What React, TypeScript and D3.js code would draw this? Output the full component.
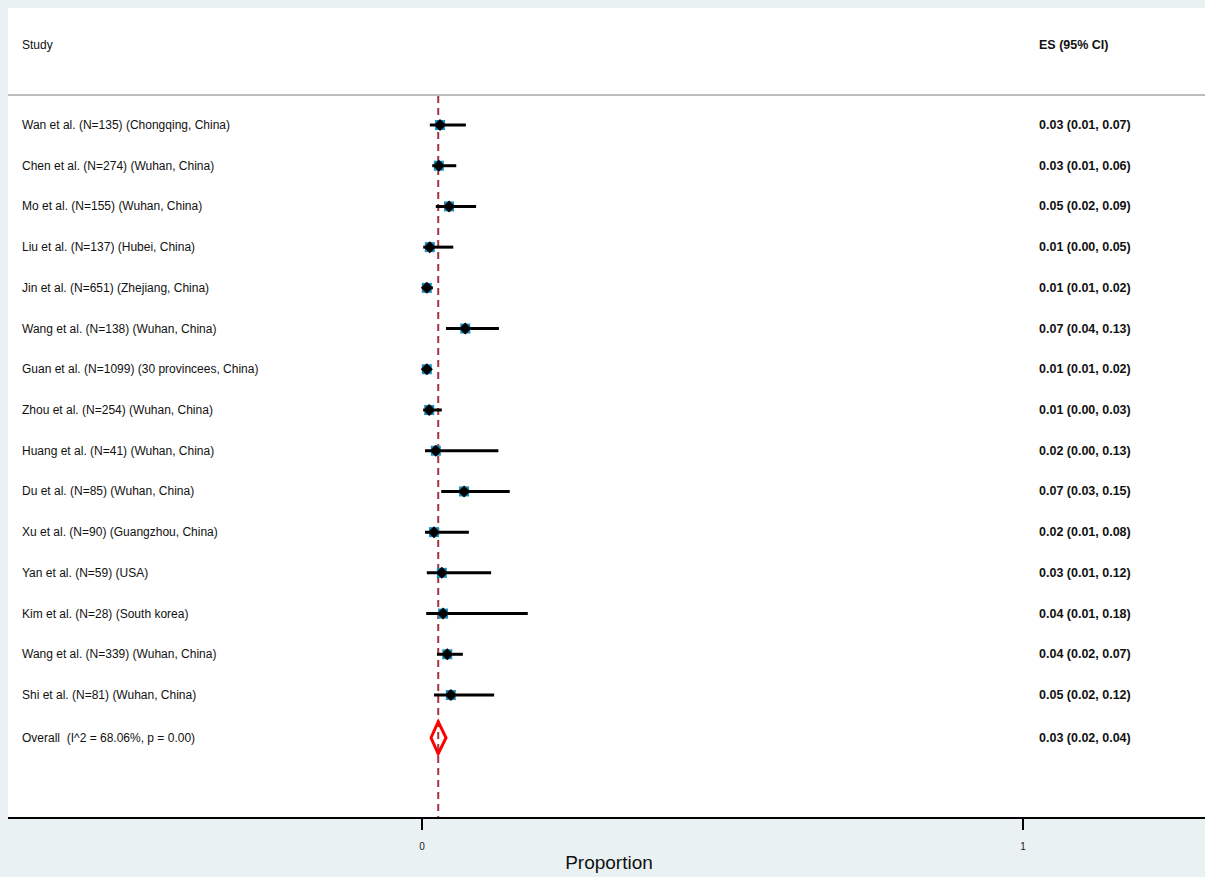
import React from "react";
import * as d3 from "d3";

const studies = [
  "Wan et al. (N=135) (Chongqing, China)",
  "Chen et al. (N=274) (Wuhan, China)",
  "Mo et al. (N=155) (Wuhan, China)",
  "Liu et al. (N=137) (Hubei, China)",
  "Jin et al. (N=651) (Zhejiang, China)",
  "Wang et al. (N=138) (Wuhan, China)",
  "Guan et al. (N=1099) (30 provincees, China)",
  "Zhou et al. (N=254) (Wuhan, China)",
  "Huang et al. (N=41) (Wuhan, China)",
  "Du et al. (N=85) (Wuhan, China)",
  "Xu et al. (N=90) (Guangzhou, China)",
  "Yan et al. (N=59) (USA)",
  "Kim et al. (N=28) (South korea)",
  "Wang et al. (N=339) (Wuhan, China)",
  "Shi et al. (N=81) (Wuhan, China)",
];
const es = [0.030, 0.028, 0.045, 0.013, 0.008, 0.072, 0.008, 0.012, 0.023, 0.070, 0.020, 0.033, 0.035, 0.042, 0.048];
const lo = [0.013, 0.017, 0.023, 0.002, 0.002, 0.040, 0.003, 0.002, 0.005, 0.032, 0.005, 0.008, 0.007, 0.025, 0.020];
const hi = [0.073, 0.057, 0.090, 0.052, 0.018, 0.128, 0.013, 0.033, 0.127, 0.146, 0.078, 0.115, 0.176, 0.068, 0.120];
const esText = [
  "0.03 (0.01, 0.07)",
  "0.03 (0.01, 0.06)",
  "0.05 (0.02, 0.09)",
  "0.01 (0.00, 0.05)",
  "0.01 (0.01, 0.02)",
  "0.07 (0.04, 0.13)",
  "0.01 (0.01, 0.02)",
  "0.01 (0.00, 0.03)",
  "0.02 (0.00, 0.13)",
  "0.07 (0.03, 0.15)",
  "0.02 (0.01, 0.08)",
  "0.03 (0.01, 0.12)",
  "0.04 (0.01, 0.18)",
  "0.04 (0.02, 0.07)",
  "0.05 (0.02, 0.12)",
];
const overallLabel = "Overall  (I^2 = 68.06%, p = 0.00)";
const overallES = 0.027;
const overallLo = 0.015;
const overallHi = 0.040;
const overallText = "0.03 (0.02, 0.04)";
const xTicks = [0, 1];

const W = 1205;
const H = 877;
const FONT = "'Liberation Sans', Arial, Helvetica, sans-serif";

export default function App() {
  const x = d3.scaleLinear().domain([0, 1]).range([422, 1023]);
  const y = d3.scaleLinear().domain([0, 14]).range([125, 695]);
  const overallY = y(15.05);
  const diamond = d3.line()([
    [x(overallLo), overallY],
    [x(overallES), overallY - 16],
    [x(overallHi), overallY],
    [x(overallES), overallY + 16],
  ]) + "Z";
  return (
    <div style={{ position: "absolute", left: 0, top: 0 }}>
      <svg width={W} height={H} style={{ display: "block" }} fontFamily={FONT}>
        <rect x={0} y={0} width={W} height={H} fill="#EAF1F3" />
        <rect x={8} y={8} width={W - 8} height={810} fill="#FFFFFF" />
        <text x={22} y={49} fontSize={12} fill="#111">Study</text>
        <text x={1039} y={49} fontSize={12.5} fill="#111" fontWeight="bold">ES (95% CI)</text>
        <line x1={8} x2={W} y1={95} y2={95} stroke="#BDBDBD" strokeWidth={2} />
        <line x1={x(overallES)} x2={x(overallES)} y1={96} y2={818} stroke="#A1353F" strokeWidth={2} strokeDasharray="7,5" />
        {studies.map((s, i) => {
          const cy = y(i);
          const cx = x(es[i]);
          return (
            <g key={i}>
              <text x={22} y={cy + 4} fontSize={12} fill="#111">{s}</text>
              <line x1={x(lo[i])} x2={x(hi[i])} y1={cy} y2={cy} stroke="#000" strokeWidth={3} />
              <rect x={cx - 5} y={cy - 5} width={10} height={10} fill="#1A8CC0" />
              <path d={`M${cx},${cy - 6}L${cx + 6},${cy}L${cx},${cy + 6}L${cx - 6},${cy}Z`} fill="#000" />
              <text x={1039} y={cy + 4} fontSize={12.5} fill="#111" fontWeight="bold">{esText[i]}</text>
            </g>
          );
        })}
        <text x={22} y={overallY + 4} fontSize={12} fill="#111" style={{ whiteSpace: "pre" }}>{overallLabel}</text>
        <path d={diamond} fill="none" stroke="#FF0000" strokeWidth={3} />
        <text x={1039} y={overallY + 4} fontSize={12.5} fill="#111" fontWeight="bold">{overallText}</text>
        <line x1={8} x2={W} y1={818} y2={818} stroke="#000" strokeWidth={2} />
        {xTicks.map((t) => (
          <g key={t}>
            <line x1={x(t)} x2={x(t)} y1={818} y2={830} stroke="#000" strokeWidth={2} />
            <text x={x(t)} y={850} fontSize={10} textAnchor="middle" fill="#222">{t}</text>
          </g>
        ))}
        <text x={609} y={869} fontSize={19} textAnchor="middle" fill="#111">Proportion</text>
      </svg>
    </div>
  );
}
